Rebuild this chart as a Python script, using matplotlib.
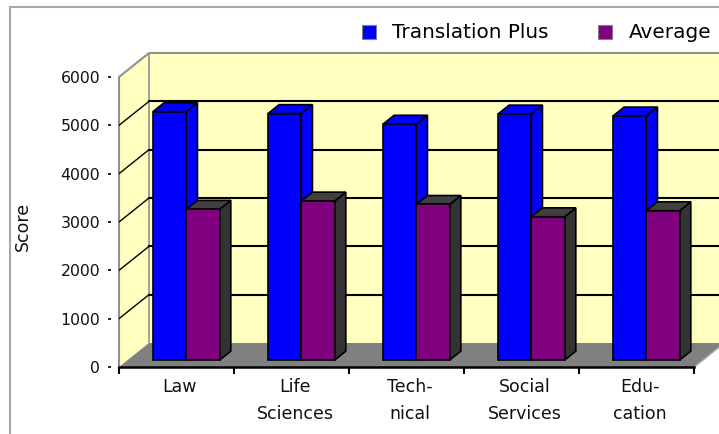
import matplotlib
matplotlib.use("Agg")
import matplotlib.pyplot as plt
from matplotlib.patches import Polygon, Rectangle
from matplotlib.lines import Line2D
import numpy as np

# ---- data ----
categories = ["Law", "Life\nSciences", "Tech-\nnical", "Social\nServices", "Edu-\ncation"]
translation_plus = [5140, 5100, 4880, 5090, 5050]
average = [3120, 3290, 3220, 2965, 3090]
series_names = ["Translation Plus", "Average"]
y_ticks = [0, 1000, 2000, 3000, 4000, 5000, 6000]

# ---- style ----
W, H, DPI = 719, 434, 100
front_color = ["#0000FF", "#800080"]
top_color = ["#0000FF", "#404040"]
side_color = ["#0000FF", "#333333"]
wall_color = "#FFFFC0"
floor_color = "#808080"
font = "DejaVu Sans"

n = len(categories)
YMAX = y_ticks[-1]
px_per_cat = 115.0
px_per_val = 290.0 / 6000.0
DX = 30.0 / px_per_cat          # full depth offset in category units
DY = 24.0 / px_per_val          # full depth offset in value units
d0 = 0.29                       # depth plane of the bar fronts
bd = 0.37                       # bar depth fraction
bw = 0.29                       # bar width
boff = 0.22                     # offset of first bar in its slot

fig = plt.figure(figsize=(W / DPI, H / DPI), dpi=DPI)
fig.patch.set_facecolor("white")

# outer frame
fig.add_artist(Rectangle((10 / W, -0.1), 1.2, 1 - 7 / H + 0.1, transform=fig.transFigure,
                         fill=False, edgecolor="#A8A8A8", linewidth=1.5))

x0_pix, y0_pix = 119.0, 367.0
ax_w = (n + DX) * px_per_cat
ax_h = (YMAX + DY) * px_per_val
ax = fig.add_axes([x0_pix / W, (H - y0_pix) / H, ax_w / W, ax_h / H])
ax.set_xlim(0, n + DX)
ax.set_ylim(0, YMAX + DY)
ax.patch.set_alpha(0)

# walls and floor
ax.add_patch(Polygon([(DX, DY), (n + DX + 1, DY), (n + DX + 1, YMAX + DY), (DX, YMAX + DY)],
                     closed=True, facecolor=wall_color, edgecolor="none", zorder=0))
ax.add_patch(Polygon([(0, 0), (DX, DY), (DX, YMAX + DY), (0, YMAX)],
                     closed=True, facecolor=wall_color, edgecolor="none", zorder=0))
ax.add_patch(Polygon([(0, 0), (n, 0), (n + DX, DY), (DX, DY)],
                     closed=True, facecolor=floor_color, edgecolor="none", zorder=0.5))
# wall borders
ax.plot([0, 0, DX, n + DX + 1], [0, YMAX, YMAX + DY, YMAX + DY], color="#909090", lw=1.5, zorder=0.6,
        clip_on=False)
ax.plot([DX, DX], [DY, YMAX + DY], color="#909090", lw=1.2, zorder=0.6)
ax.plot([n, n + DX], [0, DY], color="#A0A0A0", lw=1.2, zorder=0.6, clip_on=False)
# gridlines
for v in y_ticks[1:-1]:
    ax.plot([DX, n + DX + 1], [v + DY, v + DY], color="black", lw=1.5, zorder=0.7, clip_on=False)
    ax.plot([0, DX], [v, v + DY], color="black", lw=1.0, zorder=0.7)

# bars
bx_off = DX * d0
by_off = DY * d0
tdx, tdy = DX * bd, DY * bd
for j, vals in enumerate([translation_plus, average]):
    xs = np.arange(n) + bx_off + boff + j * bw
    for x, v in zip(xs, vals):
        # side face
        ax.add_patch(Polygon([(x + bw, by_off), (x + bw + tdx, by_off + tdy),
                              (x + bw + tdx, by_off + v + tdy), (x + bw, by_off + v)],
                             closed=True, facecolor=side_color[j], edgecolor="black", lw=1.2,
                             zorder=2 + j))
        # top face
        ax.add_patch(Polygon([(x, by_off + v), (x + bw, by_off + v),
                              (x + bw + tdx, by_off + v + tdy), (x + tdx, by_off + v + tdy)],
                             closed=True, facecolor=top_color[j], edgecolor="black", lw=1.2,
                             zorder=2 + j))
    ax.bar(xs, vals, width=bw, bottom=by_off, align="edge", color=front_color[j],
           edgecolor="black", linewidth=1.2, zorder=2.5 + j)

# axes styling
for s in ["top", "right"]:
    ax.spines[s].set_visible(False)
ax.spines["left"].set_position(("outward", 6))
ax.spines["left"].set_color("none")
ax.spines["bottom"].set_bounds(0, n)
ax.spines["bottom"].set_linewidth(1.8)
ax.spines["bottom"].set_zorder(5)

ax.set_yticks(y_ticks)
ax.set_yticklabels([str(v) for v in y_ticks], fontsize=11.3, family=font, color="#111111")
ax.tick_params(axis="y", direction="out", length=2.5, width=1.3, pad=5, colors="#111111")

ax.set_xticks(np.arange(n) + 0.53)
ax.set_xticklabels(categories, fontsize=12.5, family=font, color="#111111", linespacing=1.6)
ax.set_xticks(np.arange(n + 1), minor=True)
ax.tick_params(axis="x", which="major", length=0, pad=8)
ax.tick_params(axis="x", which="minor", direction="out", length=5, width=1.5)

ax.set_ylabel("Score", fontsize=12.5, family=font, color="#111111")
ax.yaxis.set_label_coords(32 / W, (H - 226) / H, transform=fig.transFigure)

# legend
handles = [Line2D([], [], linestyle="none", marker="s", markersize=10.5,
                  markerfacecolor=c, markeredgecolor="#808080", markeredgewidth=0.8)
           for c in front_color]
fig.legend(handles, series_names, loc="center left", bbox_to_anchor=(361 / W, 1 - 33 / H),
           ncol=2, frameon=False, prop={"family": font, "size": 14.4}, handlelength=0.75,
           handletextpad=0.8, columnspacing=2.45, borderpad=0, borderaxespad=0)

fig.savefig("out.png", dpi=DPI)
